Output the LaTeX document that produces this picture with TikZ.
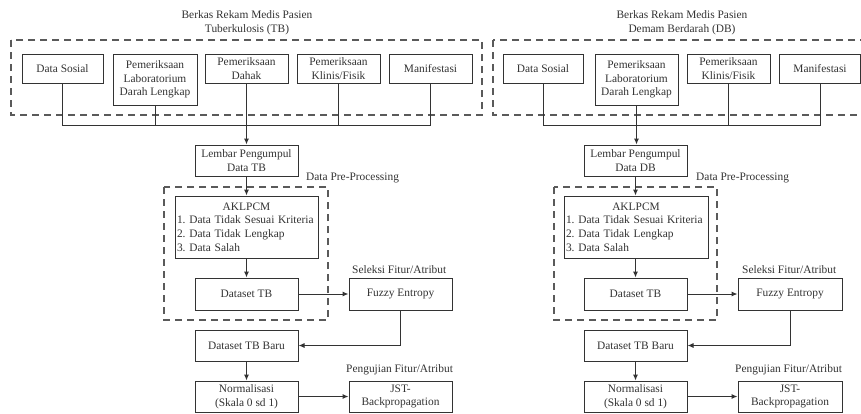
\documentclass[tikz,border=0pt]{standalone}
\usepackage{fontspec}
\setmainfont{Liberation Serif}
\frenchspacing
\usetikzlibrary{arrows.meta}
\definecolor{ink}{HTML}{333333}
\definecolor{dashc}{HTML}{5A5A5A}
\tikzset{
  box/.style={draw=ink, line width=1pt, text=ink, inner sep=0pt, align=center,
    font=\fontsize{11.4}{13.7}\selectfont, minimum height=29pt},
  frame/.style={draw=dashc, line width=1.2pt, dash pattern=on 7pt off 5pt},
  lbl/.style={text=ink, inner sep=0pt, font=\fontsize{11.4}{13.7}\selectfont},
  conn/.style={draw=ink, line width=1pt},
  arr/.style={conn, -{Latex[length=6pt,width=5pt]}}
}
\begin{document}
\begin{tikzpicture}[x=1pt,y=-1pt]
\clip (0,0) rectangle (861,413);
\fill[white] (0,0) rectangle (861,413);

% ---------- frames ----------
\draw[frame] (11,40) rectangle (482,115);
\draw[frame] (493,40) rectangle (875,115);
\draw[frame] (164,187) rectangle (328,320);
\draw[frame] (554,187) rectangle (717,320);

% ---------- titles ----------
\node[lbl, align=center] (t1) at (247,22.5) {Berkas Rekam Medis Pasien\\Tuberkulosis (TB)};
\node[lbl, align=center] (t2) at (682,22.5) {Berkas Rekam Medis Pasien\\Demam Berdarah (DB)};

% ---------- left top row ----------
\node[box, minimum width=81pt] (ds1) at (62.5,68.5) {Data Sosial};
\node[box, minimum width=84pt, minimum height=51pt] (lab1) at (155,79.5) {Pemeriksaan\\Laboratorium\\Darah Lengkap};
\node[box, minimum width=83pt] (dah1) at (246.5,68.5) {Pemeriksaan\\Dahak};
\node[box, minimum width=83pt] (kli1) at (338.5,68.5) {Pemeriksaan\\Klinis/Fisik};
\node[box, minimum width=83pt] (man1) at (430.5,68.5) {Manifestasi};

% ---------- right top row ----------
\node[box, minimum width=80pt] (ds2) at (543,68.5) {Data Sosial};
\node[box, minimum width=83pt, minimum height=51pt] (lab2) at (636.5,79.5) {Pemeriksaan\\Laboratorium\\Darah Lengkap};
\node[box, minimum width=83pt] (kli2) at (728.5,68.5) {Pemeriksaan\\Klinis/Fisik};
\node[box, minimum width=81pt] (man2) at (820,68.5) {Manifestasi};

\coordinate (bus1) at (246.5,125);
\coordinate (bus2) at (636.5,125);

% ---------- left column ----------
\node[box, minimum width=103pt, minimum height=31pt] (lem1) at (246.5,160.5) {Lembar Pengumpul\\Data TB};
\node[box, minimum width=143pt, minimum height=62pt, text width=139pt, align=left] (akl1) at (246.5,227)
  {\makebox[139pt]{AKLPCM}\\1. Data Tidak Sesuai Kriteria\\2. Data Tidak Lengkap\\3. Data Salah};
\node[box, minimum width=103pt, minimum height=32pt] (dst1) at (246.5,294) {Dataset TB};
\node[box, minimum width=103pt, minimum height=32pt] (fuz1) at (400.5,294) {Fuzzy Entropy};
\node[box, minimum width=103pt, minimum height=31pt] (new1) at (246.5,345.5) {Dataset TB Baru};
\node[box, minimum width=103pt, minimum height=31pt] (nor1) at (246.5,396.5) {Normalisasi\\(Skala 0 sd 1)};
\node[box, minimum width=103pt, minimum height=31pt] (jst1) at (400.5,396.5) {JST-\\Backpropagation};

\node[lbl, anchor=west] (pp1) at (306,178) {Data Pre-Processing};
\node[lbl, anchor=west] (sf1) at (352,270) {Seleksi Fitur/Atribut};
\node[lbl, anchor=west] (pf1) at (346,370) {Pengujian Fitur/Atribut};

% ---------- right column ----------
\node[box, minimum width=103pt, minimum height=31pt] (lem2) at (635.5,160.5) {Lembar Pengumpul\\Data DB};
\node[box, minimum width=144pt, minimum height=62pt, text width=140pt, align=left] (akl2) at (636,227)
  {\makebox[140pt]{AKLPCM}\\1. Data Tidak Sesuai Kriteria\\2. Data Tidak Lengkap\\3. Data Salah};
\node[box, minimum width=103pt, minimum height=32pt] (dst2) at (635.5,294) {Dataset TB};
\node[box, minimum width=104pt, minimum height=32pt] (fuz2) at (790,294) {Fuzzy Entropy};
\node[box, minimum width=103pt, minimum height=31pt] (new2) at (635.5,345.5) {Dataset TB Baru};
\node[box, minimum width=103pt, minimum height=31pt] (nor2) at (635.5,396.5) {Normalisasi\\(Skala 0 sd 1)};
\node[box, minimum width=104pt, minimum height=31pt] (jst2) at (790,396.5) {JST-\\Backpropagation};

\node[lbl, anchor=west] (pp2) at (696,178) {Data Pre-Processing};
\node[lbl, anchor=west] (sf2) at (742,270) {Seleksi Fitur/Atribut};
\node[lbl, anchor=west] (pf2) at (735,370) {Pengujian Fitur/Atribut};

% ---------- connectors left ----------
\draw[conn] (ds1.south) -- (ds1.south |- bus1) -- (man1.south |- bus1) -- (man1.south);
\draw[conn] (lab1.south) -- (lab1.south |- bus1);
\draw[conn] (kli1.south) -- (kli1.south |- bus1);
\draw[arr] (dah1.south) -- (lem1.north);
\draw[arr] (lem1.south) -- (akl1.north);
\draw[arr] (akl1.south) -- (dst1.north);
\draw[arr] (dst1.east) -- (fuz1.west);
\draw[arr] (fuz1.south) |- (new1.east);
\draw[arr] (new1.south) -- (nor1.north);
\draw[arr] (nor1.east) -- (jst1.west);

% ---------- connectors right ----------
\draw[conn] (ds2.south) -- (ds2.south |- bus2) -- (man2.south |- bus2) -- (man2.south);
\draw[conn] (kli2.south) -- (kli2.south |- bus2);
\draw[arr] (lab2.south) -- (lab2.south |- lem2.north);
\draw[arr] (lem2.south) -- (lem2.south |- akl2.north);
\draw[arr] (akl2.south -| lem2.south) -- (dst2.north);
\draw[arr] (dst2.east) -- (fuz2.west);
\draw[arr] (fuz2.south) |- (new2.east);
\draw[arr] (new2.south) -- (nor2.north);
\draw[arr] (nor2.east) -- (jst2.west);
\end{tikzpicture}
\end{document}
